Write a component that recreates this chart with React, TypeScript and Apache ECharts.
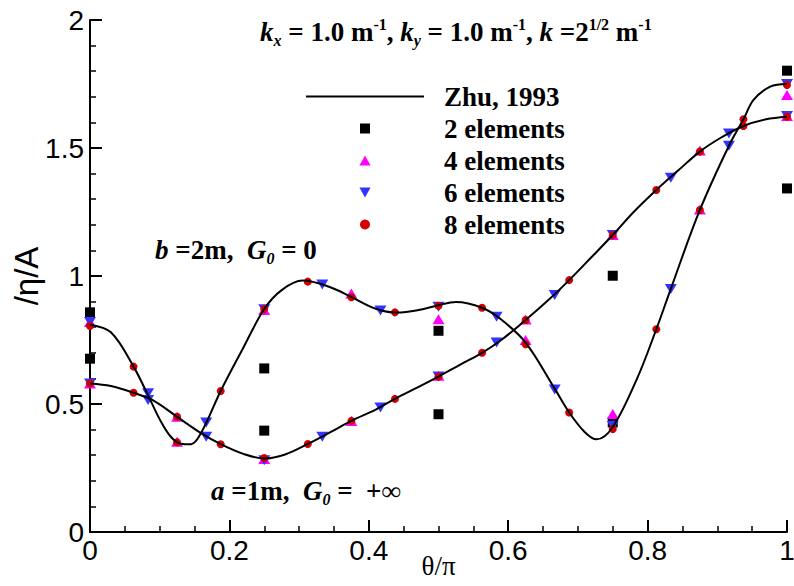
import React, { useEffect, useRef } from "react";
import * as echarts from "echarts";

// ---- Data ----
// Analytic curve (Zhu, 1993), case b = 2 m, G0 = 0
const curveBX = [0, 0.03, 0.0625, 0.084, 0.1, 0.115, 0.13, 0.145, 0.16, 0.1875, 0.22, 0.25, 0.275, 0.305, 0.343, 0.375, 0.41, 0.44, 0.47, 0.5, 0.525, 0.5625, 0.59, 0.625, 0.6667, 0.6875, 0.71, 0.727, 0.75, 0.785, 0.8125, 0.8333, 0.875, 0.9167, 0.9375, 0.952, 0.976, 1.0];
const curveBY = [0.81, 0.78, 0.646, 0.53, 0.44, 0.375, 0.345, 0.343, 0.39, 0.551, 0.72, 0.871, 0.945, 0.982, 0.958, 0.918, 0.872, 0.857, 0.866, 0.886, 0.898, 0.876, 0.83, 0.74, 0.56, 0.467, 0.39, 0.362, 0.41, 0.6, 0.792, 0.95, 1.258, 1.509, 1.612, 1.688, 1.74, 1.75];
// Analytic curve (Zhu, 1993), case a = 1 m, G0 = +inf
const curveAX = [0, 0.03, 0.0625, 0.09, 0.125, 0.16, 0.1875, 0.22, 0.25, 0.28, 0.3125, 0.345, 0.375, 0.41, 0.4375, 0.47, 0.5, 0.53, 0.5625, 0.59, 0.625, 0.66, 0.6875, 0.72, 0.75, 0.78, 0.8125, 0.845, 0.875, 0.905, 0.9375, 0.97, 1.0];
const curveAY = [0.58, 0.57, 0.544, 0.515, 0.45, 0.385, 0.343, 0.305, 0.287, 0.303, 0.344, 0.39, 0.434, 0.478, 0.52, 0.565, 0.607, 0.652, 0.7, 0.75, 0.828, 0.912, 0.984, 1.075, 1.16, 1.25, 1.336, 1.415, 1.486, 1.54, 1.586, 1.612, 1.622];

// 2 elements (x = k/4)
const elem2X = [0, 0.25, 0.5, 0.75, 1];
const elem2B = [0.858, 0.639, 0.786, 0.428, 1.802];
const elem2A = [0.677, 0.396, 0.46, 1.001, 1.342];
// 4 elements (x = k/8)
const elem4X = [0, 0.125, 0.25, 0.375, 0.5, 0.625, 0.75, 0.875, 1];
const elem4B = [0.82, 0.353, 0.867, 0.932, 0.831, 0.75, 0.461, 1.26, 1.707];
const elem4A = [0.58, 0.45, 0.285, 0.434, 0.61, 0.83, 1.16, 1.49, 1.625];
// 6 elements (x = k/12)
const elem6X = [0, 0.0833, 0.1667, 0.25, 0.3333, 0.4167, 0.5, 0.5833, 0.6667, 0.75, 0.8333, 0.9167, 1];
const elem6B = [0.82, 0.516, 0.428, 0.87, 0.967, 0.865, 0.88, 0.841, 0.557, 0.415, 0.949, 1.509, 1.75];
const elem6A = [0.58, 0.542, 0.372, 0.28, 0.372, 0.486, 0.607, 0.74, 0.926, 1.16, 1.384, 1.557, 1.625];
// 8 elements (x = k/16)
const elem8X = [0, 0.0625, 0.125, 0.1875, 0.25, 0.3125, 0.375, 0.4375, 0.5, 0.5625, 0.625, 0.6875, 0.75, 0.8125, 0.875, 0.9375, 1];
const elem8B = [0.805, 0.646, 0.35, 0.551, 0.871, 0.978, 0.917, 0.858, 0.884, 0.876, 0.733, 0.467, 0.402, 0.792, 1.258, 1.612, 1.746];
const elem8A = [0.58, 0.544, 0.45, 0.343, 0.289, 0.344, 0.434, 0.52, 0.607, 0.7, 0.828, 0.984, 1.16, 1.336, 1.486, 1.586, 1.622];

const seriesNames = ["Zhu, 1993", "2 elements", "4 elements", "6 elements", "8 elements"];
const xTicks = { min: 0, max: 1, interval: 0.2 };
const yTicks = { min: 0, max: 2, interval: 0.5 };

const zip = (xs: number[], ys: number[]) => xs.map((x, i) => [x, ys[i]]);

const SERIF = "'Liberation Serif', 'Times New Roman', serif";
const SANS = "'Liberation Sans', Arial, sans-serif";

const richStyles = {
  n: { fontFamily: SERIF, fontWeight: "bold", fontSize: 27, lineHeight: 32, fill: "#000" },
  ki: { fontFamily: SERIF, fontWeight: "bold", fontStyle: "italic", fontSize: 27, lineHeight: 32, fill: "#000" },
  sb: { fontFamily: SERIF, fontWeight: "bold", fontStyle: "italic", fontSize: 16, lineHeight: 16, verticalAlign: "bottom", fill: "#000" },
  sp: { fontFamily: SERIF, fontWeight: "bold", fontSize: 16, lineHeight: 16, verticalAlign: "top", fill: "#000" },
};

const SQUARE = "path://M0,0L10,0L10,10L0,10Z";
const UP_TRI = "path://M5,0L10,9L0,9Z";
const DOWN_TRI = "path://M0,0L10,0L5,9Z";

export default function App() {
  const ref = useRef<HTMLDivElement>(null);
  useEffect(() => {
    if (!ref.current) return;
    const chart = echarts.init(ref.current, null, { renderer: "svg" });
    const option: any = {
      animation: false,
      backgroundColor: "#fff",
      grid: { left: 90, right: 7, top: 20, bottom: 54, containLabel: false, outerBoundsMode: "none" },
      legend: {
        orient: "vertical",
        left: 305,
        top: 83,
        padding: 0,
        itemWidth: 118,
        itemHeight: 10,
        itemGap: 5,
        selectedMode: false,
        symbolKeepAspect: true,
        data: [
          { name: seriesNames[0], itemStyle: { opacity: 0 } },
          { name: seriesNames[1] },
          { name: seriesNames[2] },
          { name: seriesNames[3] },
          { name: seriesNames[4] },
        ],
        textStyle: {
          fontFamily: SERIF,
          fontWeight: "bold",
          fontSize: 27,
          color: "#000",
          padding: [0, 0, 0, 15],
        },
      },
      xAxis: {
        type: "value",
        min: xTicks.min,
        max: xTicks.max,
        interval: xTicks.interval,
        name: "θ/π",
        nameLocation: "middle",
        nameGap: 20,
        nameMoveOverlap: false,
        nameTextStyle: { fontFamily: SERIF, fontSize: 27, color: "#000" },
        axisLine: { show: true, onZero: false, lineStyle: { color: "#000", width: 2 } },
        axisTick: { show: true, inside: true, length: 12, lineStyle: { color: "#000", width: 2 } },
        minorTick: { show: true, splitNumber: 4, length: 6, lineStyle: { color: "#000", width: 1.5 } },
        splitLine: { show: false },
        axisLabel: { fontFamily: SANS, fontSize: 28, color: "#000", margin: 4 },
      },
      yAxis: {
        type: "value",
        min: yTicks.min,
        max: yTicks.max,
        interval: yTicks.interval,
        name: "/η/A",
        nameLocation: "middle",
        nameGap: 47,
        nameMoveOverlap: false,
        nameTextStyle: { fontFamily: SANS, fontSize: 33, color: "#000" },
        axisLine: { show: true, onZero: false, lineStyle: { color: "#000", width: 2 } },
        axisTick: { show: true, inside: true, length: 12, lineStyle: { color: "#000", width: 2 } },
        minorTick: { show: true, splitNumber: 5, length: 6, lineStyle: { color: "#000", width: 1.5 } },
        splitLine: { show: false },
        axisLabel: { fontFamily: SANS, fontSize: 28, color: "#000", margin: 6 },
      },
      series: [
        {
          name: seriesNames[0],
          type: "line",
          data: zip(curveBX, curveBY),
          smooth: 0.35,
          symbol: "none",
          showSymbol: false,
          clip: false,
          lineStyle: { color: "#000", width: 2 },
          itemStyle: { color: "#000" },
        },
        {
          name: seriesNames[0],
          type: "line",
          data: zip(curveAX, curveAY),
          smooth: 0.35,
          symbol: "none",
          showSymbol: false,
          clip: false,
          lineStyle: { color: "#000", width: 2 },
          itemStyle: { color: "#000" },
        },
        {
          name: seriesNames[1],
          type: "scatter",
          clip: false,
          symbol: SQUARE,
          symbolSize: 10,
          itemStyle: { color: "#000", opacity: 1 },
          data: [...zip(elem2X, elem2B), ...zip(elem2X, elem2A)],
        },
        {
          name: seriesNames[2],
          type: "scatter",
          clip: false,
          symbol: UP_TRI,
          symbolSize: [12, 10],
          itemStyle: { color: "#ff00ff", opacity: 1 },
          data: [...zip(elem4X, elem4B), ...zip(elem4X, elem4A)],
        },
        {
          name: seriesNames[3],
          type: "scatter",
          clip: false,
          symbol: DOWN_TRI,
          symbolSize: [12, 10],
          itemStyle: { color: "#3434ff", opacity: 1 },
          data: [...zip(elem6X, elem6B), ...zip(elem6X, elem6A)],
        },
        {
          name: seriesNames[4],
          type: "scatter",
          clip: false,
          symbol: "circle",
          symbolSize: 8,
          itemStyle: { color: "#d40000", opacity: 1 },
          data: [...zip(elem8X, elem8B), ...zip(elem8X, elem8A)],
        },
      ],
      graphic: [
        {
          type: "text",
          x: 260,
          y: 32,
          style: {
            text:
              "{ki|k}{sb|x}{n| = 1.0 m}{sp|-1}{n|, }{ki|k}{sb|y}{n| = 1.0 m}{sp|-1}{n|, }{ki|k}{n| =2}{sp|1/2}{n| m}{sp|-1}",
            rich: richStyles,
            verticalAlign: "middle",
            align: "left",
            fill: "#000",
          },
        },
        {
          type: "text",
          x: 155,
          y: 250,
          style: {
            text: "{ki|b}{n| =2m,  }{ki|G}{sb|0}{n| = 0}",
            rich: richStyles,
            verticalAlign: "middle",
            align: "left",
            fill: "#000",
          },
        },
        {
          type: "text",
          x: 211,
          y: 491,
          style: {
            text: "{ki|a}{n| =1m,  }{ki|G}{sb|0}{n| =  +∞}",
            rich: richStyles,
            verticalAlign: "middle",
            align: "left",
            fill: "#000",
          },
        },
      ],
    };
    chart.setOption(option);
    return () => chart.dispose();
  }, []);
  return (
    <div
      ref={ref}
      style={{ position: "absolute", left: 0, top: 0, width: 794, height: 586, overflow: "hidden" }}
    />
  );
}
